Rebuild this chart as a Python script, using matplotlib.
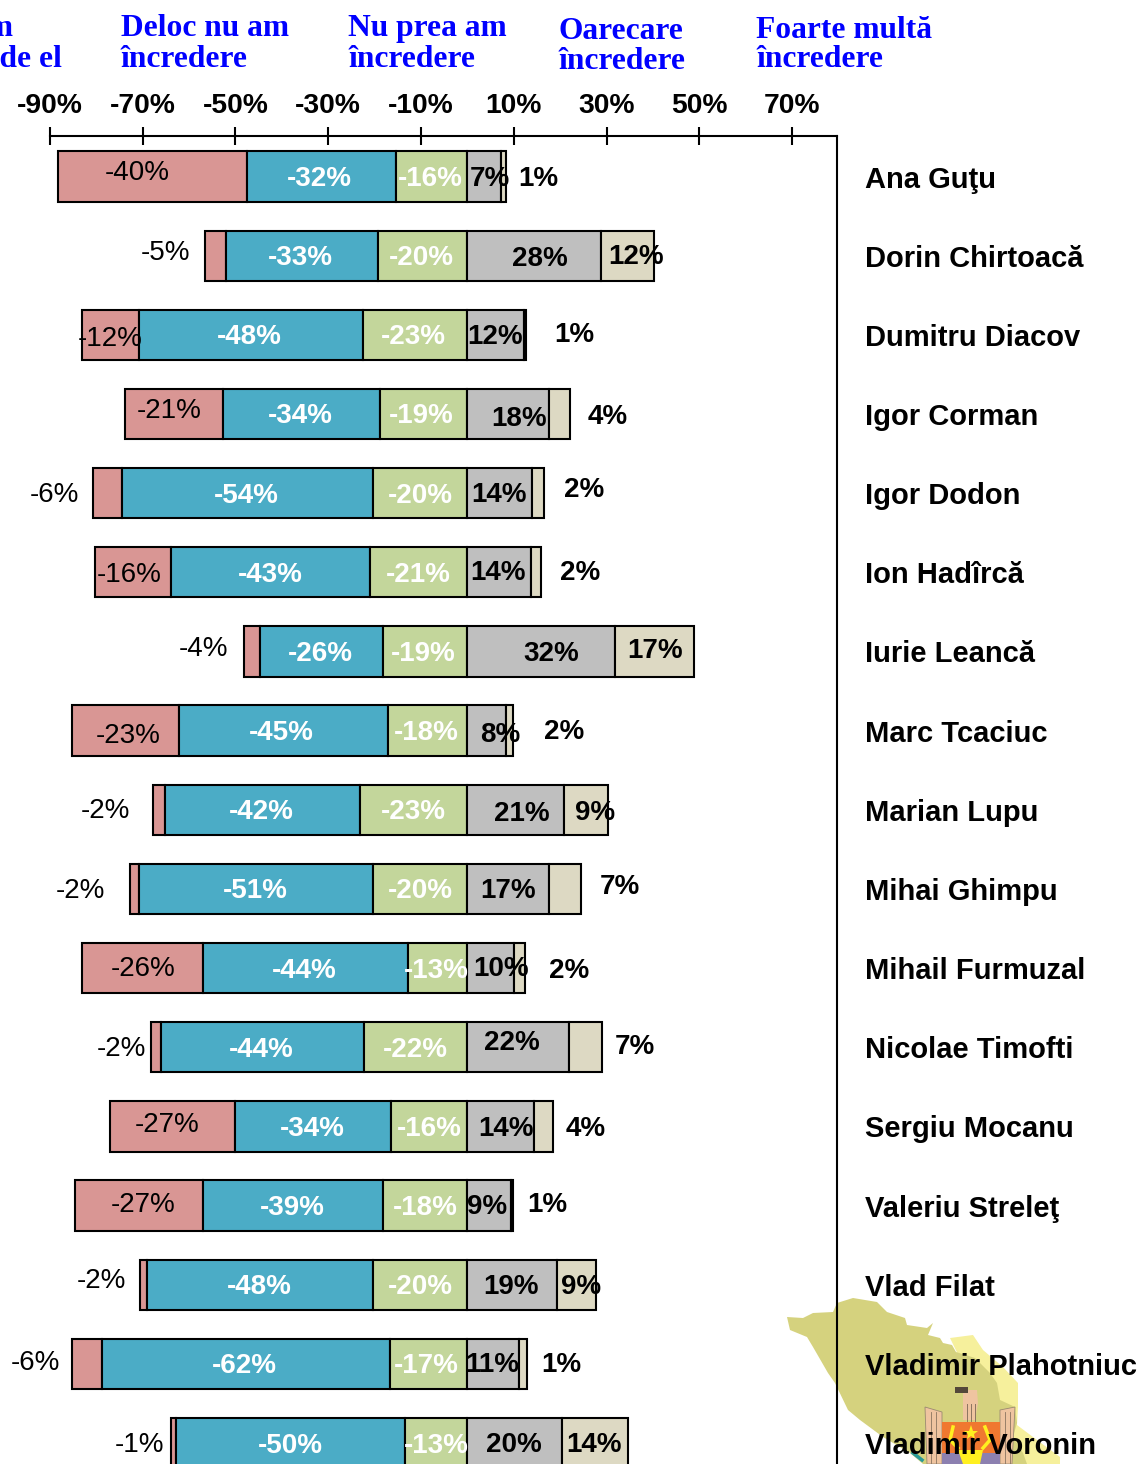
import numpy as np
import matplotlib
matplotlib.use("Agg")
import matplotlib.pyplot as plt
from matplotlib.patches import Polygon

W, H = 1142, 1464
plt.rcParams['font.family'] = ['Liberation Sans', 'DejaVu Sans']

names = ['Ana Guţu', 'Dorin Chirtoacă', 'Dumitru Diacov', 'Igor Corman', 'Igor Dodon', 'Ion Hadîrcă',
         'Iurie Leancă', 'Marc Tcaciuc', 'Marian Lupu', 'Mihai Ghimpu', 'Mihail Furmuzal', 'Nicolae Timofti',
         'Sergiu Mocanu', 'Valeriu Streleţ', 'Vlad Filat', 'Vladimir Plahotniuc', 'Vladimir Voronin']

# bar lengths
deloc = [40.7, 4.5, 12.1, 21.3, 6.3, 16.4, 3.4, 23.1, 2.6, 1.9, 26.1, 2.2, 26.9, 27.6, 1.5, 6.5, 1.1]
nu_prea = [32.3, 32.8, 48.3, 33.8, 54.1, 42.7, 26.5, 45.0, 42.0, 50.6, 44.0, 43.8, 33.8, 38.6, 48.7, 61.9, 49.4]
neutral = [15.3, 19.2, 22.6, 18.8, 20.3, 21.1, 18.3, 17.2, 23.1, 20.3, 12.9, 22.2, 16.4, 18.3, 20.3, 16.8, 13.4]
oarecare = [7.3, 28.7, 12.1, 17.5, 14.0, 13.6, 31.9, 8.2, 20.9, 17.5, 10.1, 21.8, 14.4, 9.3, 19.4, 11.2, 20.3]
foarte = [1.1, 11.6, 0.6, 4.5, 2.6, 2.2, 17.0, 1.7, 9.3, 6.9, 2.2, 7.3, 4.1, 0.6, 8.4, 1.7, 14.2]

# printed labels
deloc_lab = [-40, -5, -12, -21, -6, -16, -4, -23, -2, -2, -26, -2, -27, -27, -2, -6, -1]
nu_prea_lab = [-32, -33, -48, -34, -54, -43, -26, -45, -42, -51, -44, -44, -34, -39, -48, -62, -50]
neutral_lab = [-16, -20, -23, -19, -20, -21, -19, -18, -23, -20, -13, -22, -16, -18, -20, -17, -13]
oarecare_lab = [7, 28, 12, 18, 14, 14, 32, 8, 21, 17, 10, 22, 14, 9, 19, 11, 20]
foarte_lab = [1, 12, 1, 4, 2, 2, 17, 2, 9, 7, 2, 7, 4, 1, 9, 1, 14]

# where the labels sit in the picture (pixels)
deloc_xy = [(137, 171), (165, 251), (110, 336), (169, 409), (54, 492), (129, 572), (203, 646), (128, 733), (105, 808),
            (80, 888), (143, 967), (121, 1046), (167, 1123), (143, 1202), (101, 1278), (35, 1360), (139, 1442)]
nu_prea_x = [319, 300, 249, 300, 246, 270, 320, 281, 261, 255, 304, 261, 312, 292, 259, 244, 290]
neutral_x = [430, 421, 413, 421, 420, 418, 423, 426, 413, 420, 436, 415, 429, 425, 420, 426, 436]
oarecare_xy = [(490, 176), (540, 257), (495, 335), (519, 417), (499, 492), (498, 571), (551, 652), (500, 732), (522, 811),
               (508, 888), (501, 967), (512, 1041), (506, 1127), (487, 1205), (511, 1284), (492, 1363), (514, 1442)]
foarte_xy = [(538, 176), (636, 254), (574, 333), (608, 414), (584, 488), (580, 571), (655, 648), (564, 730), (595, 810),
             (620, 884), (569, 969), (635, 1044), (586, 1126), (547, 1203), (581, 1284), (561, 1363), (594, 1442)]

x_ticks = [-90, -70, -50, -30, -10, 10, 30, 50, 70]
x_ticklabels = ['-90%', '-70%', '-50%', '-30%', '-10%', '10%', '30%', '50%', '70%']

colors = ['#D99694', '#4BACC6', '#C3D69B', '#BFBFBF', '#DDD9C3']


def fx(x):
    return x / W


def fy(y):
    return 1 - y / H


fig = plt.figure(figsize=(W / 100, H / 100), dpi=100, facecolor='white')

# background map with the coat of arms
bg = fig.add_axes([0, 0, 1, 1], zorder=0)
bg.set_xlim(0, W)
bg.set_ylim(H, 0)
bg.axis('off')
light = [(950, 1338), (973, 1335), (983, 1350), (1003, 1367), (1018, 1383), (1018, 1407), (1017, 1425), (1033, 1437),
         (1060, 1457), (1060, 1464), (1000, 1464), (980, 1400)]
dark = [(787, 1317), (803, 1318), (813, 1313), (833, 1312), (837, 1303), (853, 1298), (877, 1302), (887, 1312), (905, 1318),
        (907, 1325), (927, 1328), (933, 1323), (928, 1335), (940, 1338), (943, 1343), (952, 1345), (956, 1352), (975, 1358),
        (990, 1373), (997, 1383), (1000, 1400), (1015, 1407), (1017, 1423), (1013, 1437), (1023, 1453), (1027, 1464),
        (923, 1464), (910, 1453), (883, 1437), (860, 1420), (848, 1410), (835, 1383), (828, 1373), (813, 1347), (807, 1337),
        (790, 1330)]
bg.add_patch(Polygon(light, closed=True, fc='#F6F09C', ec='none'))
bg.add_patch(Polygon(dark, closed=True, fc='#D5D27E', ec='none'))
peach = '#EFC4A0'
bg.add_patch(Polygon([(963, 1390), (977, 1390), (978, 1403), (975, 1420), (963, 1420), (963, 1403)], closed=True, fc=peach, ec='none'))
bg.add_patch(Polygon([(925, 1407), (942, 1412), (942, 1464), (927, 1464)], closed=True, fc=peach, ec='#9A8A70', lw=0.6))
bg.add_patch(Polygon([(1000, 1410), (1015, 1407), (1012, 1464), (1000, 1464)], closed=True, fc=peach, ec='#9A8A70', lw=0.6))
for fx_line in [967, 971, 975]:
    bg.plot([fx_line, fx_line], [1404, 1421], color='#8A7460', lw=0.7)
for fx_line in [931, 936, 1005, 1010]:
    bg.plot([fx_line, fx_line], [1412, 1464], color='#8A7460', lw=0.6)
bg.add_patch(Polygon([(955, 1387), (968, 1387), (968, 1393), (955, 1393)], closed=True, fc='#54483A', ec='none'))
bg.add_patch(Polygon([(942, 1422), (1000, 1422), (1000, 1453), (942, 1453)], closed=True, fc='#F07830', ec='none'))
bg.add_patch(Polygon([(942, 1453), (1000, 1453), (1000, 1464), (942, 1464)], closed=True, fc='#8C80B0', ec='none'))
bg.add_patch(Polygon([(958, 1450), (983, 1450), (980, 1464), (963, 1464)], closed=True, fc='#FFF020', ec='none'))
bg.plot([953, 950, 958], [1427, 1440, 1448], color='#FFF020', lw=2.5)
bg.plot([985, 990, 983], [1427, 1440, 1448], color='#FFF020', lw=2.5)
bg.plot([971], [1433], marker='*', ms=11, color='#FFF020', mew=0)
bg.plot([913, 922], [1453, 1460], color='#2A9A98', lw=2.5)

# chart
x_left, x_right, y_top = 49.9, 837, 136
ax = fig.add_axes([fx(x_left), 0, fx(x_right - x_left), fy(y_top)], zorder=1)
ax.patch.set_alpha(0)
ax.set_xlim(-90, 79.65)
ax.set_ylim(16.265, -0.512)

y = np.arange(len(names))
series = np.array([deloc, nu_prea, neutral, oarecare, foarte])
left = -series[:3].sum(axis=0)
# negative side is stacked so that it ends on zero
for i in range(3):
    ax.barh(y, series[i], left=left, height=0.635, color=colors[i], edgecolor='black', linewidth=1.5)
    left = left + series[i]
left = np.zeros(len(names))
for i in range(3, 5):
    ax.barh(y, series[i], left=left, height=0.635, color=colors[i], edgecolor='black', linewidth=1.5)
    left = left + series[i]

ax.spines['left'].set_visible(False)
ax.spines['bottom'].set_visible(False)
ax.spines['top'].set_linewidth(1.5)
ax.spines['right'].set_linewidth(1.5)
ax.xaxis.tick_top()
ax.set_xticks(x_ticks)
ax.set_xticklabels(x_ticklabels, fontsize=20.3, fontweight='bold')
ax.tick_params(axis='x', direction='inout', length=12.5, width=1.5, pad=6)
ax.yaxis.tick_right()
ax.set_yticks(y)
ax.set_yticklabels(names, fontsize=21, fontweight='bold')
ax.tick_params(axis='y', length=0, pad=20)


def label(val, px, py, color='black', weight='bold'):
    fig.text(fx(px), fy(py + 2.5), f'{val}%', ha='center', va='center', fontsize=20, fontweight=weight, color=color, zorder=5)


row_y = [176.5 + 79.16 * i for i in range(len(names))]
for i in range(len(names)):
    label(deloc_lab[i], deloc_xy[i][0], deloc_xy[i][1], weight='normal')
    label(nu_prea_lab[i], nu_prea_x[i], row_y[i], color='white')
    label(neutral_lab[i], neutral_x[i], row_y[i], color='white')
    label(oarecare_lab[i], oarecare_xy[i][0], oarecare_xy[i][1])
    label(foarte_lab[i], foarte_xy[i][0], foarte_xy[i][1])

# legend headers
head = dict(family=['Liberation Serif', 'DejaVu Serif'], fontsize=22.7, fontweight='bold', color='#0000FF', va='baseline')
fig.text(fx(13), fy(36), 'Nu am', ha='right', **head)
fig.text(fx(62), fy(67), 'auzit de el', ha='right', **head)
fig.text(fx(121), fy(36), 'Deloc nu am', **head)
fig.text(fx(121), fy(67), 'încredere', **head)
fig.text(fx(348), fy(36), 'Nu prea am', **head)
fig.text(fx(348), fy(67), 'încredere', **head)
fig.text(fx(559), fy(39), 'Oarecare', **head)
fig.text(fx(559), fy(69), 'încredere', **head)
fig.text(fx(756), fy(38), 'Foarte multă', **head)
fig.text(fx(756), fy(67), 'încredere', **head)

fig.savefig('out.png', dpi=100)
